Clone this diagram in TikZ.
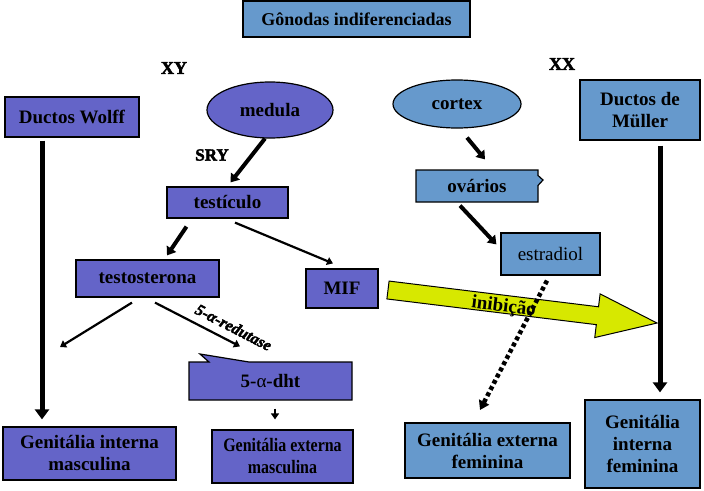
\documentclass[tikz,border=0pt]{standalone}
\usepackage{fontspec}
\setmainfont{Liberation Serif}
\newfontfamily\pesada[FakeBold=2.5]{Liberation Serif Bold}
\usetikzlibrary{arrows.meta,positioning,calc,shapes.geometric,shapes.callouts}
\definecolor{roxo}{RGB}{100,100,200}
\definecolor{azul}{RGB}{102,153,204}
\definecolor{verdeamar}{RGB}{215,232,0}

\begin{document}
\begin{tikzpicture}[
  x=1pt, y=-1pt,
  font=\fontsize{19}{22}\selectfont\bfseries,
  caixa/.style={draw, line width=1.2pt, align=center, inner sep=0pt},
  roxa/.style={caixa, fill=roxo},
  azula/.style={caixa, fill=azul},
  rotulo/.style={font=\fontsize{18}{20}\selectfont\pesada},
  seta/.style={line width=4pt, -{Triangle[length=8pt,width=11pt]}},
  setafina/.style={line width=2.2pt, -{Triangle[length=6pt,width=8pt]}},
  setagrossa/.style={line width=5pt, -{Triangle[length=10pt,width=14pt]}}
]
  \fill[white] (0,0) rectangle (704,490);
  \useasboundingbox (0,0) rectangle (704,490);

  % topo
  \node[azula, minimum width=227pt, minimum height=36pt,
        font=\fontsize{18}{20}\selectfont\bfseries] (gonadas) at (356.5,19) {Gônodas indiferenciadas};
  \node[rotulo] (xy) at (174,68) {XY};
  \node[rotulo] (xx) at (562,64) {XX};

  % lado masculino
  \node[roxa, minimum width=134pt, minimum height=40pt] (wolff) at (72,117) {Ductos Wolff};
  \node[roxa, ellipse, minimum width=126pt, minimum height=56pt] (medula) at (270,110) {medula};
  \node[rotulo, font=\fontsize{17}{19}\selectfont\pesada] (sry) at (212,155) {SRY};
  \node[roxa, minimum width=121pt, minimum height=31pt] (testiculo) at (227.5,202.5) {testículo};
  \node[roxa, minimum width=143pt, minimum height=37pt] (testosterona) at (147.5,278.5) {testosterona};
  \node[roxa, minimum width=72pt, minimum height=39pt] (mif) at (342,288.5) {MIF};
  \node[roxa, rectangle callout, callout absolute pointer={(200,354)}, callout pointer width=40pt,
        minimum width=163pt, minimum height=38pt] (dht) at (270.5,381) {5-{\mdseries α}-dht};
  \node[roxa, minimum width=173pt, minimum height=53pt] (gim) at (89.5,453.5) {Genitália interna\\masculina};
  \node[roxa, minimum width=141pt, minimum height=53pt] (gem) at (282.5,456.5)
    {\scalebox{0.84}[1]{Genitália externa}\\\scalebox{0.84}[1]{masculina}};
  \coordinate (tleft) at (60,347);

  % lado feminino
  \node[azula, ellipse, minimum width=128pt, minimum height=48pt] (cortex) at (457,104) {cortex};
  \node[azula, minimum width=120pt, minimum height=60pt] (muller) at (640,110) {Ductos de\\Müller};
  \node[azula, rectangle callout, callout absolute pointer={(543,180)}, callout pointer width=10pt,
        minimum width=122pt, minimum height=32pt] (ovarios) at (477,186) {ovários};
  \node[azula, minimum width=99pt, minimum height=42pt,
        font=\fontsize{19}{22}\selectfont\mdseries] (estradiol) at (550.5,254) {estradiol};
  \node[azula, minimum width=165pt, minimum height=55pt] (gef) at (487.5,450.5) {Genitália externa\\feminina};
  \node[azula, minimum width=115pt, minimum height=88pt] (gif) at (642.5,444) {Genitália\\interna\\feminina};
  \coordinate (gefin) at (480,410);

  % seta de inibicao
  \begin{scope}[shift={(388,290)}, rotate=-7]
    \filldraw[fill=verdeamar, line width=1pt]
      (0,-9) -- (211,-9) -- (211,-22) -- (271,0) -- (211,22) -- (211,9) -- (0,9) -- cycle;
    \node[rotate=-7] (inibicao) at (117,3) {inibição};
  \end{scope}

  \draw[setagrossa] ([xshift=-30pt,yshift=-3pt]wolff.south) -- ([xshift=-47.5pt,yshift=7pt]gim.north);
  \draw[seta] (medula.260) -- ([xshift=3pt,yshift=4pt]testiculo.north);
  \draw[seta] ([xshift=-41pt,yshift=-8pt]testiculo.south) -- ([xshift=19.5pt,yshift=4pt]testosterona.north);
  \draw[setafina] ([xshift=7.5pt,yshift=-4pt]testiculo.south) -- ([xshift=-9pt,yshift=5pt]mif.north);
  \draw[setafina] ([xshift=-15.5pt,yshift=-5pt]testosterona.south) -- (tleft);
  \draw[setafina] ([xshift=7.5pt,yshift=-5pt]testosterona.south) -- ([xshift=-30.5pt,yshift=15pt]dht.north)
    node[pos=0.85, above=4pt, sloped, font=\fontsize{16}{18}\selectfont\pesada\itshape] (redutase) {5-α-redutase};
  \draw[setafina] ([xshift=4.5pt,yshift=-8pt]dht.south) -- ([xshift=-7.5pt,yshift=10pt]gem.north);

  \draw[seta] ([xshift=10pt,yshift=-9pt]cortex.south) -- ([xshift=8pt,yshift=10pt]ovarios.north);
  \draw[seta] ([xshift=-17pt,yshift=-3pt]ovarios.south) -- ([xshift=-4pt,yshift=-12pt]estradiol.north west);
  \draw[setagrossa] ([xshift=20pt,yshift=-5pt]muller.south) -- ([xshift=17.5pt,yshift=7pt]gif.north);
  \draw[line width=4.5pt, dash pattern=on 4pt off 3pt, -{Triangle[length=9pt,width=11pt]}]
    ([xshift=-3.5pt,yshift=-5pt]estradiol.south) -- (gefin);
\end{tikzpicture}
\end{document}
